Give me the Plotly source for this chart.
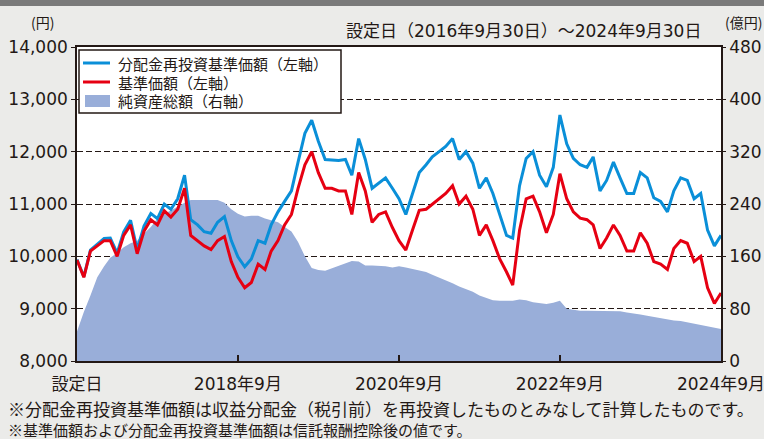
import plotly.graph_objects as go
import pandas as pd

# ---- data (monthly, from fund inception 2016-09-30 to 2024-09-30) ----
dates = pd.date_range(start="2016-09-30", periods=97, freq="ME")

nav_reinvested = [  # 分配金再投資基準価額 (円)
    9940, 9610, 10120, 10230, 10340, 10350, 10060, 10470, 10690, 10130,
    10580, 10820, 10720, 11000, 10900, 11100, 11550, 10700, 10600, 10470,
    10440, 10650, 10760, 10300, 9990, 9800, 9950, 10300, 10250, 10600,
    10850, 11050, 11250, 11800, 12350, 12600, 12200, 11850, 11840, 11830,
    11850, 11550, 12250, 11850, 11300, 11400, 11500, 11300, 11100, 10800,
    11200, 11600, 11750, 11900, 12000, 12100, 12250, 11850, 12000, 11780,
    11300, 11500, 11200, 10800, 10400, 10350, 11350, 11870, 12000, 11550,
    11330, 11700, 12700, 12150, 11870, 11750, 11700, 11900, 11250, 11450,
    11800, 11500, 11200, 11200, 11600, 11500, 11120, 11050, 10850, 11250,
    11500, 11450, 11100, 11200, 10500, 10200, 10400,
]

nav = [  # 基準価額 (円)
    9930, 9600, 10100, 10200, 10300, 10300, 10000, 10400, 10600, 10050,
    10480, 10700, 10600, 10870, 10750, 10900, 11300, 10400, 10300, 10200,
    10130, 10300, 10380, 9900, 9600, 9400, 9500, 9850, 9750, 10100,
    10300, 10600, 10800, 11300, 11750, 12000, 11600, 11300, 11300, 11250,
    11250, 10800, 11600, 11250, 10650, 10800, 10850, 10550, 10300, 10120,
    10500, 10880, 10900, 11000, 11100, 11200, 11350, 11000, 11150, 10900,
    10400, 10600, 10300, 9950, 9700, 9450, 10500, 11100, 11150, 10850,
    10450, 10800, 11580, 11100, 10850, 10730, 10700, 10600, 10150, 10350,
    10600, 10400, 10100, 10100, 10450, 10250, 9900, 9850, 9750, 10150,
    10300, 10250, 9900, 10000, 9400, 9100, 9300,
]

net_assets = [  # 純資産総額 (億円)
    45, 75, 100, 128, 145, 158, 165, 174, 180, 184,
    195, 205, 218, 225, 230, 236, 242, 246, 246, 247,
    246, 246, 242, 232, 225, 221, 222, 222, 218, 215,
    212, 205, 198, 182, 160, 142, 139, 138, 142, 146,
    150, 153, 152, 146, 146, 146, 145, 143, 145, 143,
    141, 138, 136, 132, 128, 124, 119, 114, 110, 106,
    100, 96, 93, 92, 92, 92, 94, 93, 90, 89,
    87, 89, 92, 80, 78, 77, 77, 77, 77, 77,
    77, 76, 74, 73, 71, 69, 67, 65, 64, 62,
    61, 59, 57, 56, 53, 51, 49,
]

x_tick_vals = ["2016-09-30", "2018-09-30", "2020-09-30", "2022-09-30", "2024-09-30"]
x_tick_text = ["設定日", "2018年9月", "2020年9月", "2022年9月", "2024年9月"]
left_ticks = [8000, 9000, 10000, 11000, 12000, 13000, 14000]
left_tick_text = ["8,000", "9,000", "10,000", "11,000", "12,000", "13,000", "14,000"]
right_ticks = [0, 80, 160, 240, 320, 400, 480]

legend_names = ["分配金再投資基準価額（左軸）", "基準価額（左軸）", "純資産総額（右軸）"]
subtitle = "設定日（2016年9月30日）～2024年9月30日"
notes = [
    "※分配金再投資基準価額は収益分配金（税引前）を再投資したものとみなして計算したものです。",
    "※基準価額および分配金再投資基準価額は信託報酬控除後の値です。",
]

# ---- styling ----
W, H = 764, 439
L, R, T, B = 77, 43, 47, 78
PW, PH = W - L - R, H - T - B
INK = "#231815"
BLUE = "#0a8fd8"
RED = "#e60012"
AREA = "#99aed9"
BG = "#ebebe9"
NUM_FONT = "DejaVu Sans, Noto Sans CJK JP, sans-serif"
JP_FONT = "Noto Sans CJK JP, sans-serif"


def px(xp):
    return (xp - L) / PW


def py(yp):
    return (H - B - yp) / PH


fig = go.Figure()

fig.add_trace(go.Scatter(
    x=dates, y=net_assets, yaxis="y", mode="lines",
    line=dict(width=0, color=AREA), fill="tozeroy", fillcolor=AREA,
    name=legend_names[2], showlegend=False, hoverinfo="skip",
))
fig.add_trace(go.Scatter(
    x=dates, y=nav_reinvested, yaxis="y2", mode="lines",
    line=dict(width=3, color=BLUE), name=legend_names[0], showlegend=False,
))
fig.add_trace(go.Scatter(
    x=dates, y=nav, yaxis="y2", mode="lines",
    line=dict(width=3, color=RED), name=legend_names[1], showlegend=False,
))

shapes = [
    # top dark band
    dict(type="rect", xref="paper", yref="paper", x0=px(0), x1=px(W), y0=py(6), y1=py(0),
         fillcolor="#7a7a7a", line=dict(width=0), layer="above"),
    # legend box
    dict(type="rect", xref="paper", yref="paper", x0=px(79), x1=px(341), y0=py(113), y1=py(50),
         fillcolor="white", line=dict(color=INK, width=1.5), layer="above"),
    dict(type="line", xref="paper", yref="paper", x0=px(83), x1=px(110), y0=py(63), y1=py(63),
         line=dict(color=BLUE, width=3), layer="above"),
    dict(type="line", xref="paper", yref="paper", x0=px(83), x1=px(110), y0=py(82), y1=py(82),
         line=dict(color=RED, width=3), layer="above"),
    dict(type="rect", xref="paper", yref="paper", x0=px(85), x1=px(110), y0=py(107), y1=py(95),
         fillcolor=AREA, line=dict(width=0), layer="above"),
]

annotations = []
for i, yy in enumerate([63, 82, 101]):
    annotations.append(dict(
        xref="paper", yref="paper", x=px(116), y=py(yy), xanchor="left", yanchor="middle",
        text=legend_names[i], showarrow=False, font=dict(family=JP_FONT, size=15, color=INK),
    ))
annotations += [
    dict(xref="paper", yref="paper", x=px(42), y=py(22), xanchor="center", yanchor="middle",
         text="(円)", showarrow=False, font=dict(family=JP_FONT, size=14, color=INK)),
    dict(xref="paper", yref="paper", x=px(764), y=py(22), xanchor="right", yanchor="middle",
         text="(億円)", showarrow=False, font=dict(family=JP_FONT, size=14, color=INK)),
    dict(xref="paper", yref="paper", x=px(703), y=py(31), xanchor="right", yanchor="middle",
         text=subtitle, showarrow=False, font=dict(family=NUM_FONT, size=17, color=INK)),
    dict(xref="paper", yref="paper", x=px(6), y=py(408), xanchor="left", yanchor="middle",
         text=notes[0], showarrow=False, font=dict(family=JP_FONT, size=17, color=INK)),
    dict(xref="paper", yref="paper", x=px(6), y=py(429), xanchor="left", yanchor="middle",
         text=notes[1], showarrow=False, font=dict(family=JP_FONT, size=15, color=INK)),
]

fig.update_layout(
    width=W, height=H,
    margin=dict(l=L, r=R, t=T, b=B, pad=0, autoexpand=False),
    paper_bgcolor=BG, plot_bgcolor="white",
    showlegend=False,
    xaxis=dict(
        type="date", range=["2016-09-30", "2024-09-30"],
        tickvals=x_tick_vals, ticktext=x_tick_text,
        ticks="inside", ticklen=6, tickwidth=1.5, tickcolor=INK,
        showline=True, linecolor=INK, linewidth=1.6, mirror=True,
        showgrid=False, zeroline=False, ticklabelstandoff=7, automargin=False,
        ticklabeloverflow="allow",
        tickfont=dict(family=NUM_FONT, size=17, color=INK),
    ),
    yaxis=dict(
        side="right", range=[0, 480], tickvals=right_ticks,
        ticks="outside", ticklen=3, tickwidth=1.2, tickcolor=INK,
        showline=True, linecolor=INK, linewidth=1.6, automargin=False,
        showgrid=True, gridcolor=INK, gridwidth=1.3, griddash="6px,3px",
        zeroline=False, tickfont=dict(family=NUM_FONT, size=17, color=INK),
    ),
    yaxis2=dict(
        overlaying="y", side="left", range=[8000, 14000],
        tickvals=left_ticks, ticktext=left_tick_text,
        ticks="outside", ticklen=4, tickwidth=1.2, tickcolor=INK,
        showline=True, linecolor=INK, linewidth=1.6, automargin=False,
        showgrid=False, zeroline=False,
        tickfont=dict(family=NUM_FONT, size=17, color=INK),
    ),
    shapes=shapes, annotations=annotations,
)

fig.write_html(
    "out.html",
    config={"displayModeBar": False},
    post_script="document.body.style.margin='0';document.body.style.overflow='hidden';",
)
